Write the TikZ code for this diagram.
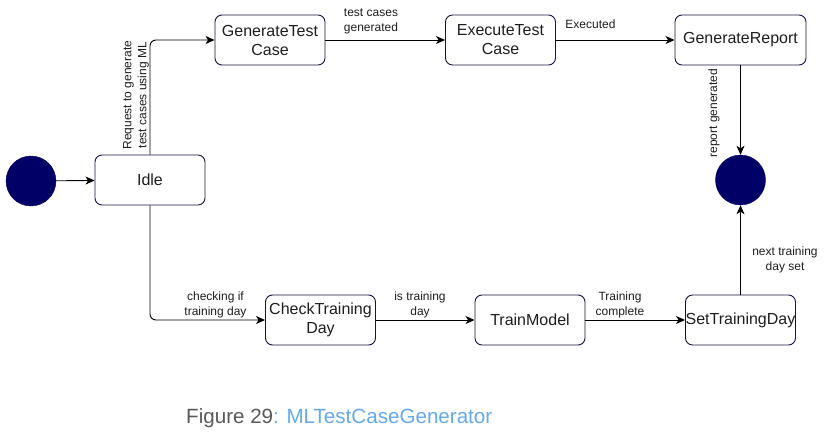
\documentclass[tikz,border=0pt]{standalone}
\usepackage{fontspec}
\setmainfont{Liberation Sans}
\usetikzlibrary{arrows.meta}
\definecolor{navy}{RGB}{0,0,102}
\definecolor{nodeline}{RGB}{20,20,70}
\definecolor{txt}{RGB}{30,30,30}
\definecolor{capgrey}{RGB}{89,89,89}
\definecolor{capblue}{RGB}{100,170,235}
\begin{document}
\begin{tikzpicture}[x=1pt,y=-1pt,
  state/.style={draw=nodeline, line width=0.9pt, rounded corners=7pt, minimum width=110pt, minimum height=50pt,
    inner sep=0pt, align=center, text=txt, font=\fontsize{16}{19}\selectfont},
  pseudo/.style={circle, fill=navy, draw=navy, minimum size=50pt, inner sep=0pt},
  edge/.style={draw=black, line width=0.9pt, -{Stealth[length=9pt,width=8pt,inset=2.5pt]}},
  lbl/.style={font=\fontsize{12}{15}\selectfont, text=txt, align=center, inner sep=0pt}]
\useasboundingbox (0,0) rectangle (831,436);
\fill[white] (0,0) rectangle (831,436);

\node[pseudo] (start) at (31,181) {};
\node[state] (idle) at (150,180) {Idle};
\node[state] (gen) at (270,40) {GenerateTest\\Case};
\node[state] (exec) at (500.5,40) {ExecuteTest\\Case};
\node[state, minimum width=131pt] (rep) at (740.5,40) {GenerateReport};
\node[pseudo] (end) at (740.5,180) {};
\node[state] (check) at (320.5,320) {CheckTraining\\Day};
\node[state] (train) at (530,320) {TrainModel};
\node[state] (set) at (740.5,320) {SetTrainingDay};

\coordinate (c1) at (idle.north |- gen.west);
\coordinate (c2) at (idle.south |- check.west);

\draw[edge] (start) -- (idle);
\draw[edge, rounded corners=6pt] (idle.north) -- (c1) -- (gen.west);
\draw[edge] (gen) -- (exec);
\draw[edge] (exec) -- (rep);
\draw[edge] (rep) -- (end);
\draw[edge] (set) -- (end);
\draw[edge, rounded corners=6pt] (idle.south) -- (c2) -- (check.west);
\draw[edge] (check) -- (train);
\draw[edge] (train) -- (set);

\node[lbl, rotate=90] (l1) at (136,95) {Request to generate\\test cases using ML};
\node[lbl] (l2) at (371,21) {test cases\\generated};
\node[lbl] (l3) at (590.5,24) {Executed};
\node[lbl, rotate=90] (l4) at (714,113) {report generated};
\node[lbl] (l5) at (785,260) {next training\\day set};
\node[lbl] (l6) at (215.5,305) {checking if\\training day};
\node[lbl] (l7) at (420,305) {is training\\day};
\node[lbl] (l8) at (620,305) {Training\\complete};

\node[anchor=base west, inner sep=0pt, font=\fontsize{20.6}{24}\selectfont] (cap) at (186,423)
  {\textcolor{capgrey}{Figure 29}\textcolor{capblue}{: MLTestCaseGenerator}};
\end{tikzpicture}
\end{document}
